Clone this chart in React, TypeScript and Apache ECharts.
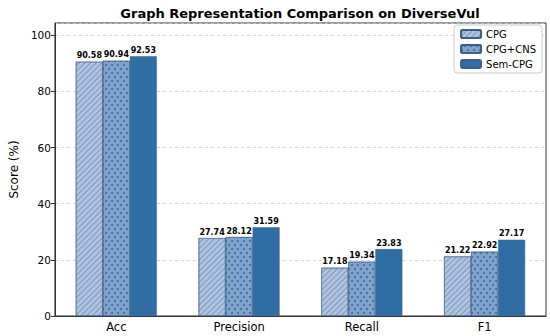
import React, { useEffect, useRef } from "react";
import * as echarts from "echarts";

const categories = ["Acc", "Precision", "Recall", "F1"];
const seriesNames = ["CPG", "CPG+CNS", "Sem-CPG"];
const cpg = [90.58, 27.74, 17.18, 21.22];
const cpgCns = [90.94, 28.12, 19.34, 22.92];
const semCpg = [92.53, 31.59, 23.83, 27.17];
const yTicks = [0, 20, 40, 60, 80, 100];

const FONT = "DejaVu Sans";
const EDGE = "#3f5f84";

export default function App() {
  const ref = useRef<HTMLDivElement>(null);
  useEffect(() => {
    if (!ref.current) return;
    const chart = echarts.init(ref.current, null, { renderer: "svg" });
    const label = {
      show: true,
      position: "top",
      distance: 2,
      fontFamily: FONT,
      fontSize: 8,
      fontWeight: "bold",
      color: "#000",
      formatter: (p: any) => Number(p.value).toFixed(2),
    };
    const styles = [
      {
        color: "#aec4e0",
        borderColor: EDGE,
        borderWidth: 0.5,
        decal: {
          color: "rgba(80,110,150,0.5)",
          symbol: "rect",
          symbolSize: 1,
          dashArrayX: [1, 0],
          dashArrayY: [0.8, 2.8],
          rotation: -Math.PI / 4,
        },
      },
      {
        color: "#7ea4ce",
        borderColor: EDGE,
        borderWidth: 0.5,
        decal: {
          color: "rgba(50,82,128,0.75)",
          symbol: "circle",
          symbolSize: 1,
          dashArrayX: [
            [1.3, 3.2],
            [0, 2.25, 1.3, 0.95],
          ],
          dashArrayY: [1.3, 2.0],
          rotation: 0,
        },
      },
      {
        color: "#2e6ea4",
        borderColor: EDGE,
        borderWidth: 0.5,
      },
    ];
    const datas = [cpg, cpgCns, semCpg];
    chart.setOption({
      animation: false,
      aria: { enabled: false },
      title: {
        text: "Graph Representation Comparison on DiverseVul",
        left: 295,
        textAlign: "center",
        top: 2,
        textStyle: { fontFamily: FONT, fontSize: 13, fontWeight: "bold", color: "#000" },
      },
      legend: {
        data: seriesNames,
        orient: "vertical",
        right: 8,
        top: 25,
        itemWidth: 20,
        itemHeight: 8,
        itemGap: 5,
        padding: [4, 6, 4, 6],
        borderColor: "#cccccc",
        borderWidth: 1,
        borderRadius: 3,
        backgroundColor: "#fff",
        textStyle: { fontFamily: FONT, fontSize: 10, color: "#000" },
      },
      grid: {
        left: 44,
        right: 4,
        top: 23,
        bottom: 20,
        show: true,
        borderColor: "#333",
        borderWidth: 1,
        backgroundColor: "transparent",
      },
      xAxis: {
        type: "category",
        data: categories,
        axisLine: { lineStyle: { color: "#333", width: 1 } },
        axisTick: { alignWithLabel: true, length: 4, lineStyle: { color: "#333" } },
        axisLabel: { fontFamily: FONT, fontSize: 11.5, color: "#000", margin: 5 },
        splitLine: { show: false },
      },
      yAxis: {
        type: "value",
        min: 0,
        max: 104.4,
        interval: 20,
        name: "Score (%)",
        nameLocation: "middle",
        nameGap: 30,
        nameTextStyle: { fontFamily: FONT, fontSize: 12, color: "#000" },
        axisLine: { show: true, lineStyle: { color: "#333", width: 1 } },
        axisTick: { show: true, length: 4, lineStyle: { color: "#333" } },
        axisLabel: {
          fontFamily: FONT,
          fontSize: 10.5,
          color: "#000",
          margin: 4,
          showMaxLabel: false,
          formatter: (v: number) => (yTicks.includes(v) ? String(v) : ""),
        },
        splitLine: { show: true, lineStyle: { color: "#cccccc", type: [3, 3], width: 0.8 } },
      },
      series: seriesNames.map((name, i) => ({
        name,
        type: "bar",
        data: datas[i],
        barWidth: 27,
        barGap: "0%",
        itemStyle: styles[i],
        label,
        z: 3,
      })),
    });
    return () => chart.dispose();
  }, []);
  return (
    <div
      ref={ref}
      style={{ position: "fixed", left: 0, top: 0, width: 550, height: 336, background: "#fff" }}
    />
  );
}
